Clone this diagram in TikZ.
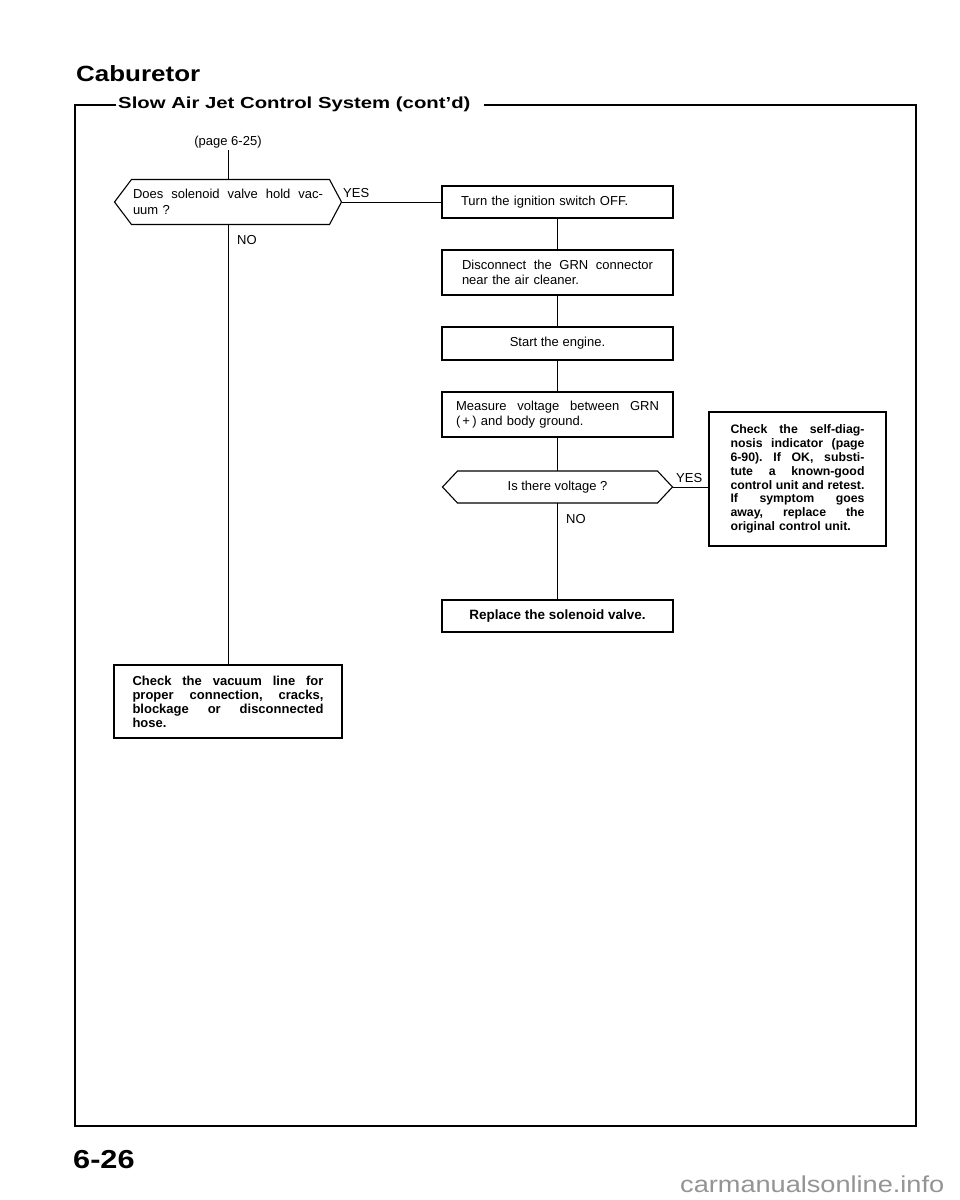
\documentclass[tikz,border=0pt]{standalone}
\usepackage{fontspec}
\setmainfont{Liberation Sans}
\newfontfamily\headfont[FakeStretch=1.18]{Liberation Sans}
\newfontfamily\subfont[FakeStretch=1.27]{Liberation Sans}
\newcommand{\jl}[2]{\makebox[#1][s]{\frenchspacing\spaceskip=0pt\xspaceskip=0pt\relax #2}}

\begin{document}
\begin{tikzpicture}[x=1pt,y=-1pt,
  box/.style={draw,line width=1.1pt,outer sep=0pt,inner sep=0pt,minimum width=231pt,align=left,font=\fontsize{13}{15}\selectfont},
  bbox/.style={box,font=\fontsize{13}{14}\selectfont\bfseries},
  dec/.style={outer sep=0pt,inner sep=0pt,font=\fontsize{13}{15.5}\selectfont},
  lbl/.style={anchor=base west,inner sep=0pt,font=\fontsize{13}{15}\selectfont},
  head/.style={anchor=base west,inner sep=0pt},
  ln/.style={line width=0.8pt},
  hx/.style={line width=1.1pt,line join=miter},
  frame/.style={line width=1.4pt}]
  \useasboundingbox[fill=white] (0,0) rectangle (960,1200);
  % kopf
  \node[head,font=\headfont\bfseries\fontsize{22}{26}\selectfont] (ttl) at (76,81) {Caburetor};
  \node[head,font=\subfont\bfseries\fontsize{16}{19}\selectfont] (sub) at (118,108) {Slow Air Jet Control System (cont’d)};
  \coordinate (fl) at (116,105); \coordinate (fr) at (484,105);
  \draw[frame] (fl) -- (75,105) -- (75,1126) -- (916,1126) -- (916,105) -- (fr);
  % linker zweig
  \node[dec,inner sep=2pt] (pg) at (228,142) {(page 6-25)};
  \node[dec,minimum width=227pt,minimum height=45pt,text width=190pt,align=left] (d1) at (228,202) {\jl{190pt}{Does solenoid valve hold vac-}\\uum ?};
  \node[lbl] (yes1) at (343,197) {YES};
  \node[lbl] (no1) at (237,244) {NO};
  \node[bbox,minimum width=228pt,minimum height=73pt,text width=191pt] (lb) at (228,701.5)
    {\jl{191pt}{Check the vacuum line for}\\\jl{191pt}{proper connection, cracks,}\\\jl{191pt}{blockage or disconnected}\\hose.};
  % rechter zweig
  \node[box,minimum height=32pt,text width=193pt] (b1) at (557.5,202) {Turn the ignition switch OFF.};
  \node[box,minimum height=45pt,text width=191pt] (b2) at (557.5,272.5) {\jl{191pt}{Disconnect the GRN connector}\\near the air cleaner.};
  \node[box,minimum height=33pt,align=center] (b3) at (557.5,343.5) {Start the engine.};
  \node[box,minimum height=45pt,text width=203pt] (b4) at (557.5,414.5) {\jl{203pt}{Measure voltage between GRN}\\(\,+\,) and body ground.};
  \node[dec,minimum width=230pt,minimum height=32pt] (d2) at (557.5,487) {Is there voltage ?};
  \node[lbl] (yes2) at (676,482) {YES};
  \node[lbl] (no2) at (566,523) {NO};
  \node[bbox,font=\fontsize{12.3}{13.8}\selectfont\bfseries,minimum width=177pt,minimum height=134pt,text width=134pt] (rb) at (797.5,479)
    {\jl{134pt}{Check the self-diag-}\\\jl{134pt}{nosis indicator (page}\\\jl{134pt}{6-90). If OK, substi-}\\\jl{134pt}{tute a known-good}\\\jl{134pt}{control unit and retest.}\\\jl{134pt}{If symptom goes}\\\jl{134pt}{away, replace the}\\original control unit.};
  \node[bbox,font=\fontsize{13.5}{15}\selectfont\bfseries,minimum height=32pt,align=center] (rp) at (557.5,616) {Replace the solenoid valve.};
  % rauten
  \foreach \n/\l/\r in {d1/17/12,d2/15/15}
    \draw[hx] (\n.west) -- ([xshift=\l]\n.north west) -- ([xshift=-\r]\n.north east) -- (\n.east)
      -- ([xshift=-\r]\n.south east) -- ([xshift=\l]\n.south west) -- cycle;
  % linien
  \draw[ln] (pg.south) -- (d1.north);
  \draw[ln] (d1.south) -- (lb.north);
  \draw[ln] (d1.east) -- (b1.west);
  \draw[ln] (b1.south) -- (b2.north); \draw[ln] (b2.south) -- (b3.north);
  \draw[ln] (b3.south) -- (b4.north); \draw[ln] (b4.south) -- (d2.north);
  \draw[ln] (d2.south) -- (rp.north);
  \draw[ln] (d2.east) -- (d2.east -| rb.west);
  % fuss
  \node[head,font=\headfont\bfseries\fontsize{26}{30}\selectfont] (pgno) at (73,1168) {6-26};
  \node[head,font=\headfont\fontsize{23}{26}\selectfont,text=black!42] (wm) at (680,1192) {carmanualsonline.info};
\end{tikzpicture}
\end{document}
